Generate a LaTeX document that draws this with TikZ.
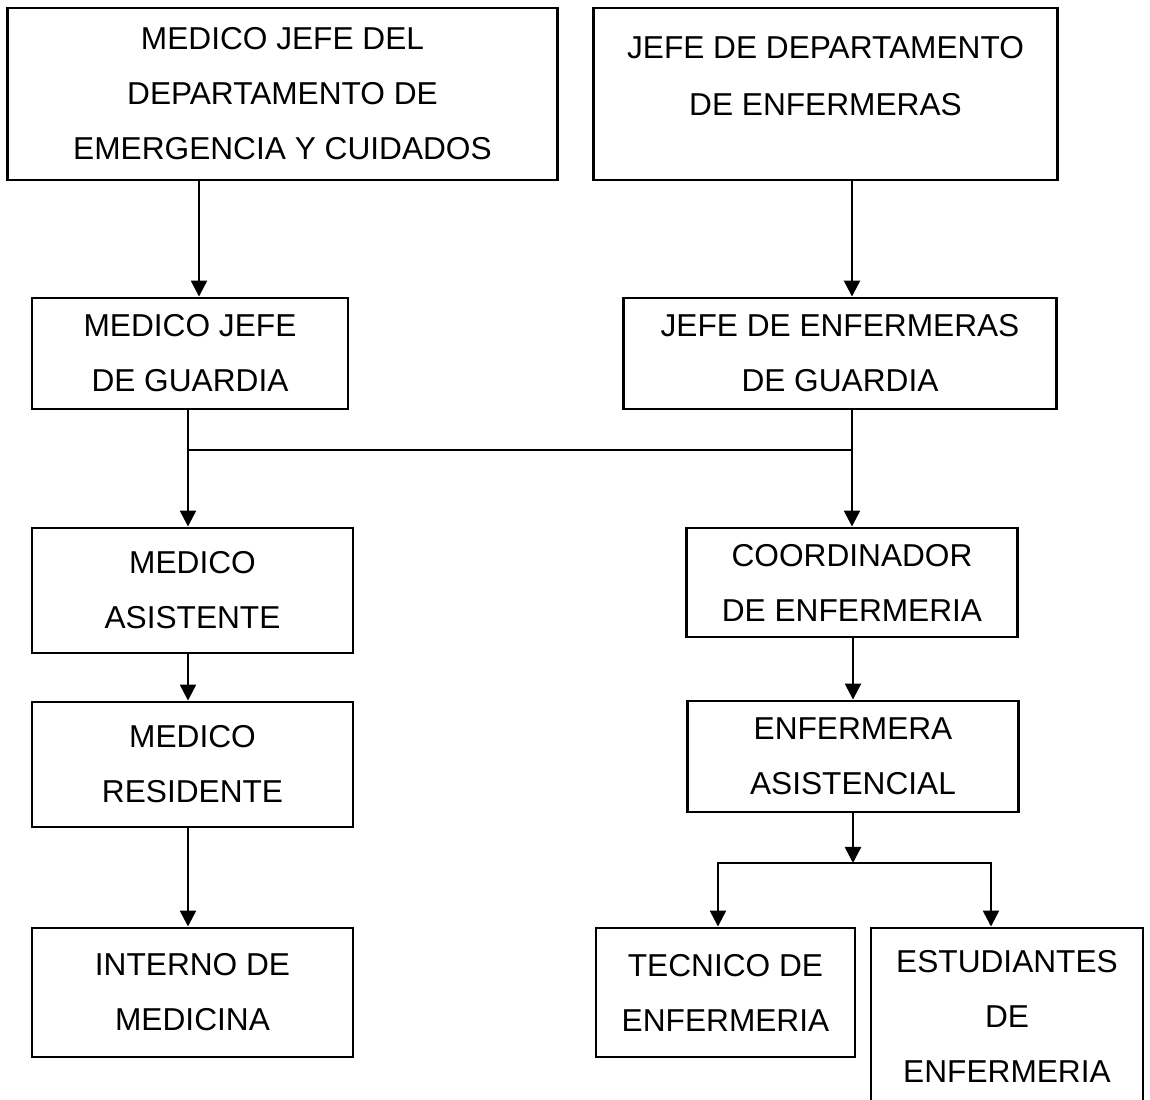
\documentclass[tikz,border=0pt]{standalone}
\usepackage{fontspec}
\setmainfont{Liberation Sans}
\usetikzlibrary{arrows.meta}

\begin{document}
\begin{tikzpicture}[x=0.01cm,y=-0.01cm,
    caja/.style={draw,line width=0.8pt,align=center,inner sep=0pt,
        font=\fontsize{9}{15.65}\selectfont},
    texto/.style={align=center,inner sep=0pt,font=\fontsize{9}{16.2}\selectfont},
    flecha/.style={line width=0.7pt,-{Triangle[width=0.16cm,length=0.16cm]}},
    linea/.style={line width=0.7pt,line cap=rect}]
    \useasboundingbox (0,0) rectangle (1150,1100);
    \node[caja,minimum width=5.49cm,minimum height=1.72cm] (jefemed) at (282.5,94)
        {MEDICO JEFE DEL\\DEPARTAMENTO DE\\EMERGENCIA Y CUIDADOS};
    \node[caja,minimum width=4.63cm,minimum height=1.72cm] (jefedep) at (825.5,94) {};
    \node[texto] (jefedeptxt) at (825.5,76.5) {JEFE DE DEPARTAMENTO\\DE ENFERMERAS};
    \node[caja,minimum width=3.16cm,minimum height=1.11cm] (medguardia) at (190,353.5)
        {MEDICO JEFE\\DE GUARDIA};
    \node[caja,minimum width=4.32cm,minimum height=1.11cm] (enfguardia) at (840,353.5)
        {JEFE DE ENFERMERAS\\DE GUARDIA};
    \node[caja,minimum width=3.21cm,minimum height=1.25cm] (asistente) at (192.5,590.5)
        {MEDICO\\ASISTENTE};
    \node[caja,minimum width=3.30cm,minimum height=1.09cm] (coordinador) at (852,582.5)
        {COORDINADOR\\DE ENFERMERIA};
    \node[caja,minimum width=3.21cm,minimum height=1.25cm] (residente) at (192.5,764.5)
        {MEDICO\\RESIDENTE};
    \node[caja,minimum width=3.30cm,minimum height=1.11cm] (enfasist) at (853,756.5)
        {ENFERMERA\\ASISTENCIAL};
    \node[caja,minimum width=3.21cm,minimum height=1.29cm] (interno) at (192.5,992.5)
        {INTERNO DE\\MEDICINA};
    \node[caja,minimum width=2.59cm,minimum height=1.29cm] (tecnico) at (725.5,992.5)
        {TECNICO DE\\ENFERMERIA};
    \node[caja,minimum width=2.72cm,minimum height=1.76cm] (estudiantes) at (1007,1016)
        {ESTUDIANTES\\DE\\ENFERMERIA};

    \coordinate (bajada) at (199,0);
    \coordinate (nudo) at (188,450);
    \coordinate (cruce) at (852,450);
    \coordinate (reparto) at (853,863);
    \coordinate (ramatec) at (718,863);
    \coordinate (ramaest) at (991,863);

    \draw[flecha] (jefemed.south -| bajada) -- (medguardia.north -| bajada);
    \draw[flecha] (jefedep.south -| cruce) -- (enfguardia.north -| cruce);
    \draw[linea] (medguardia.south -| nudo) -- (nudo) -- (cruce);
    \draw[flecha] (enfguardia.south -| cruce) -- (coordinador.north -| cruce);
    \draw[flecha] (nudo) -- (asistente.north -| nudo);
    \draw[flecha] (asistente.south -| nudo) -- (residente.north -| nudo);
    \draw[flecha] (residente.south -| nudo) -- (interno.north -| nudo);
    \draw[flecha] (coordinador.south -| reparto) -- (enfasist.north -| reparto);
    \draw[flecha] (enfasist.south -| reparto) -- (reparto);
    \draw[linea] (ramatec) -- (ramaest);
    \draw[flecha] (ramatec) -- (tecnico.north -| ramatec);
    \draw[flecha] (ramaest) -- (estudiantes.north -| ramaest);
\end{tikzpicture}
\end{document}
